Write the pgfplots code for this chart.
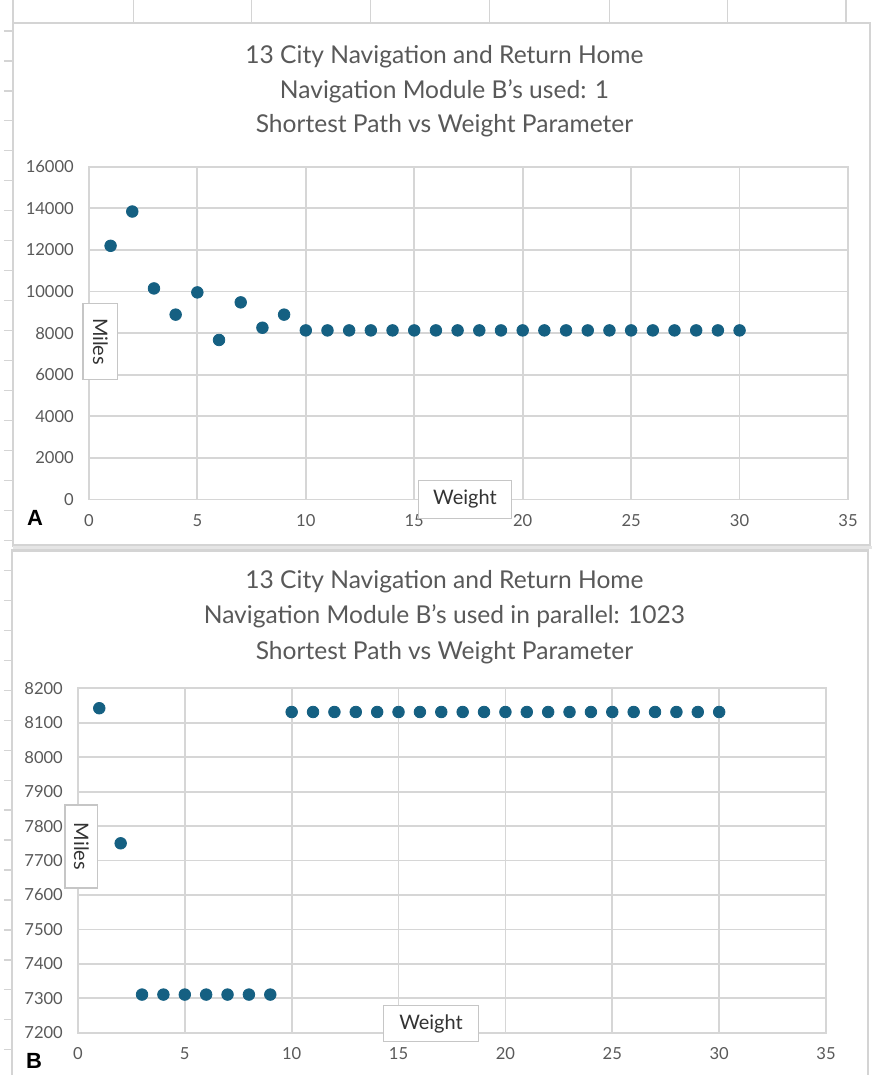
\documentclass[border=0pt]{standalone}
\usepackage{fontspec}
\setmainfont{Lato}
\newfontfamily\arialfont{Liberation Sans}
\usepackage{pgfplots}
\pgfplotsset{compat=1.18}
\definecolor{mk}{HTML}{156082}
\definecolor{gridc}{HTML}{D6D6D6}
\definecolor{txt}{HTML}{595959}
\definecolor{lbl}{HTML}{333333}
\definecolor{fr}{HTML}{D4D4D4}

\pgfplotstableread{
x y
1 12200
2 13850
3 10150
4 8890
5 9960
6 7670
7 9480
8 8260
9 8890
10 8131
11 8131
12 8131
13 8131
14 8131
15 8131
16 8131
17 8131
18 8131
19 8131
20 8131
21 8131
22 8131
23 8131
24 8131
25 8131
26 8131
27 8131
28 8131
29 8131
30 8131
}\dataA

\pgfplotstableread{
x y
1 8142
2 7750
3 7311
4 7311
5 7311
6 7311
7 7311
8 7311
9 7311
10 8131
11 8131
12 8131
13 8131
14 8131
15 8131
16 8131
17 8131
18 8131
19 8131
20 8131
21 8131
22 8131
23 8131
24 8131
25 8131
26 8131
27 8131
28 8131
29 8131
30 8131
}\dataB

\pgfplotsset{
  xlchart/.style={
    scale only axis, clip=false,
    xmin=0, xmax=35, xtick={0,5,...,35},
    scaled y ticks=false, scaled x ticks=false,
    grid=major,
    major grid style={gridc, line width=0.9pt},
    axis line style={gridc, line width=0.9pt},
    tick style={draw=none},
    ticklabel style={font=\fontsize{8.3}{9}\selectfont, text=txt},
    /pgf/number format/assume math mode=true,
    /pgf/number format/set thousands separator={},
    yticklabel style={xshift=-4pt},
    xticklabel style={yshift=-4pt},
  }
}

\begin{document}
\begin{tikzpicture}
\begin{scope}[x=0.5pt,y=-0.5pt]
\useasboundingbox (0,0) rectangle (873,1075);
% spreadsheet background
\foreach \xx in {134,252,371,490,610,728,847} {\draw[fr, line width=0.6pt] (\xx,0)--(\xx,23);}
\foreach \yy in {31,61,...,1075} {\draw[fr, line width=0.6pt] (4,\yy)--(13,\yy);}
\draw[fr, line width=0.8pt] (13,0)--(13,23);
% frames
\draw[fr, line width=1.2pt, fill=white] (13,23) rectangle (871,546);
\draw[gray!20, line width=1.5pt] (13,548)--(873,548);
\draw[fr, line width=1.2pt, fill=white] (12,551) rectangle (869,1090);
\end{scope}

% ---------- Panel A ----------
\begin{axis}[xlchart, at={(44.5pt,-250pt)}, anchor=south west,
  width=380pt, height=166.5pt,
  ymin=0, ymax=16000, ytick={0,2000,...,16000}]
\addplot[only marks, mark=*, mark size=2.9pt, mark options={draw=mk, fill=mk}] table[x=x,y=y] {\dataA};
\end{axis}

% ---------- Panel B ----------
\begin{axis}[xlchart, at={(39pt,-517pt)}, anchor=south west,
  width=374.5pt, height=172.5pt,
  ymin=7200, ymax=8200, ytick={7200,7300,...,8200}]
\addplot[only marks, mark=*, mark size=2.9pt, mark options={draw=mk, fill=mk}] table[x=x,y=y] {\dataB};
\end{axis}

\begin{scope}[x=0.5pt,y=-0.5pt]
% titles
\begin{scope}[every node/.style={text=txt, font=\fontsize{12.3}{14}\selectfont}]
\node at (445,57) {13 City Navigation and Return Home};
\node at (445,91) {Navigation Module B's used: 1};
\node at (445,126) {Shortest Path vs Weight Parameter};
\node at (445,582) {13 City Navigation and Return Home};
\node at (445,617) {Navigation Module B's used in parallel: 1023};
\node at (445,653) {Shortest Path vs Weight Parameter};
\end{scope}

% axis label boxes
\begin{scope}[every node/.style={draw=gray!45, fill=white, line width=0.6pt, text=lbl, font=\fontsize{10}{11}\selectfont, inner sep=0pt}]
\node[rotate=-90, minimum width=38pt, minimum height=17.5pt] at (100.5,342) {Miles};
\node[minimum width=46.5pt, minimum height=19pt] at (465.5,500) {Weight};
\node[rotate=-90, minimum width=41.5pt, minimum height=16.5pt] at (81.5,847.5) {Miles};
\node[minimum width=47.5pt, minimum height=18pt] at (431.5,1025) {Weight};
\end{scope}

% panel letters
\node[font=\arialfont\bfseries\fontsize{11}{12}\selectfont] at (35,519) {A};
\node[font=\arialfont\bfseries\fontsize{11}{12}\selectfont] at (34,1062) {B};
\end{scope}
\end{tikzpicture}
\end{document}
